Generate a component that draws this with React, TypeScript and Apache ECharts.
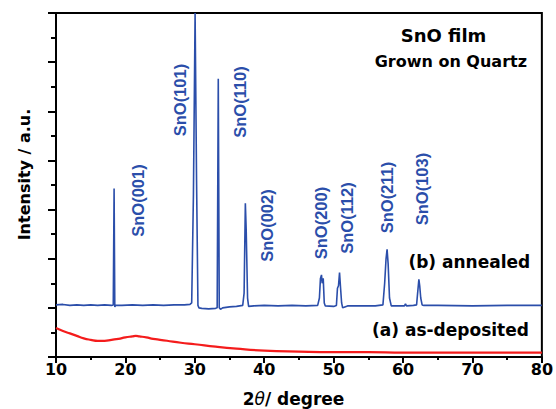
import React, { useEffect, useRef } from "react";
import * as echarts from "echarts";

// 2θ (degree) and intensity (a.u.)
const annealedX: number[] = [
  10, 11, 12, 13, 14, 15, 16, 17, 18.0, 18.25, 18.37, 18.47, 18.6, 19.5, 21, 22.5, 24, 25.5, 27, 28.5,
  29.3, 29.55, 29.8, 30.04, 30.25, 30.45, 30.6, 31, 32, 33.0, 33.22, 33.38, 33.52, 33.7, 34, 35, 36,
  36.9, 37.1, 37.28, 37.4, 37.6, 37.75, 38.5, 40, 42, 44, 46, 47.7, 47.95, 48.1, 48.25, 48.35, 48.5,
  48.65, 48.8, 50, 50.4, 50.55, 50.7, 50.85, 51.0, 51.15, 51.3, 52, 54, 56, 57.1, 57.35, 57.55, 57.7,
  57.85, 58.05, 58.3, 59, 60.2, 60.35, 60.5, 61.5, 61.95, 62.1, 62.28, 62.4, 62.55, 62.75, 63, 65, 70,
  75, 80,
];
const annealedY: number[] = [
  1.06, 1.07, 1.05, 1.06, 1.05, 1.06, 1.05, 1.06, 1.05, 1.06, 3.43, 1.02, 1.05, 1.05, 1.06, 1.05, 1.06, 1.05, 1.06, 1.06,
  1.07, 1.1, 3.3, 7.0, 3.6, 1.05, 1.0, 0.99, 0.98, 0.99, 1.0, 5.66, 1.0, 0.97, 1.0, 1.02, 1.03,
  1.05, 1.3, 3.13, 2.6, 1.2, 1.03, 1.04, 1.05, 1.04, 1.05, 1.04, 1.05, 1.2, 1.6, 1.67, 1.5, 1.6,
  1.1, 1.04, 1.03, 1.05, 1.4, 1.45, 1.72, 1.4, 1.1, 1.0, 1.04, 1.04, 1.04, 1.06, 1.5, 2.0, 2.19,
  1.9, 1.2, 1.04, 1.04, 1.04, 1.08, 1.04, 1.05, 1.06, 1.3, 1.58, 1.45, 1.2, 1.06, 1.05, 1.05, 1.04,
  1.05, 1.05,
];
const depositedX: number[] = [
  10, 11, 12, 13, 14, 15, 16, 17, 18, 19, 20, 21, 21.5, 22, 23, 24, 25, 26, 28, 30, 33, 36, 40, 45, 50,
  55, 60, 65, 70, 75, 80,
];
const depositedY: number[] = [
  0.59, 0.53, 0.48, 0.43, 0.38, 0.35, 0.33, 0.33, 0.35, 0.37, 0.4, 0.42, 0.43, 0.42, 0.4, 0.37, 0.35, 0.33, 0.29,
  0.26, 0.21, 0.17, 0.13, 0.11, 0.1, 0.1, 0.09, 0.09, 0.09, 0.09, 0.09,
];
const xTicks = { min: 10, max: 80, step: 10 };
const peakLabels: string[] = ["SnO(001)", "SnO(101)", "SnO(110)", "SnO(002)", "SnO(200)", "SnO(112)", "SnO(211)", "SnO(103)"];
const peakLabelPos: [number, number][] = [
  [138, 200.5], [180, 100], [240, 102], [267, 225.5], [321, 223], [347, 218], [387, 197.5], [422, 189],
];

const BLUE = "#2b4eaa";
const RED = "#f41c1c";
const BOLD = "DejaVu Sans";

export default function App() {
  const ref = useRef<HTMLDivElement>(null);
  useEffect(() => {
    if (!ref.current) return;
    const chart = echarts.init(ref.current, null, { renderer: "svg" });
    const graphics: any[] = peakLabels.map((t, i) => ({
      type: "text",
      x: peakLabelPos[i][0],
      y: peakLabelPos[i][1],
      rotation: Math.PI / 2,
      style: {
        text: t,
        fill: BLUE,
        font: "bold 16.5px 'Liberation Sans'",
        align: "center",
        verticalAlign: "middle",
      },
    }));
    const blackText = (text: string, x: number, y: number, size: number, rot = 0) => ({
      type: "text",
      x,
      y,
      rotation: rot,
      style: {
        text,
        fill: "#000",
        font: `bold ${size}px '${BOLD}'`,
        align: "center",
        verticalAlign: "middle",
      },
    });
    graphics.push(
      blackText("SnO film", 443.5, 35, 18),
      blackText("Grown on Quartz", 450.8, 61, 16),
      blackText("(b) annealed", 469.3, 261.7, 17),
      blackText("(a) as-deposited", 450.5, 330, 17),
      blackText("Intensity / a.u.", 24, 174.5, 16, Math.PI / 2),
      {
        type: "text",
        x: 293.5,
        y: 398.7,
        style: {
          text: "{a|2}{b|θ}{a|/ degree}",
          align: "center",
          verticalAlign: "middle",
          rich: {
            a: { fontFamily: BOLD, fontWeight: "bold", fontSize: 17, fill: "#000" },
            b: { fontFamily: BOLD, fontStyle: "italic", fontSize: 17, fill: "#000" },
          },
        },
      }
    );
    chart.setOption({
      animation: false,
      backgroundColor: "#fff",
      grid: { left: 56, top: 13, right: 12, bottom: 52, show: true, borderColor: "#000", borderWidth: 2 },
      xAxis: {
        type: "value",
        min: xTicks.min,
        max: xTicks.max,
        interval: xTicks.step,
        axisLine: { lineStyle: { color: "#000", width: 2 } },
        axisTick: { show: true, inside: false, length: 6, lineStyle: { color: "#000", width: 2 } },
        minorTick: { show: true, splitNumber: 2, length: 3, lineStyle: { color: "#000", width: 2 } },
        splitLine: { show: false },
        axisLabel: { color: "#000", fontFamily: BOLD, fontWeight: "bold", fontSize: 16, margin: 4 },
      },
      yAxis: {
        type: "value",
        min: 0,
        max: 7,
        interval: 1,
        axisLine: { show: true, lineStyle: { color: "#000", width: 2 } },
        axisTick: { show: true, inside: false, length: 8, lineStyle: { color: "#000", width: 2 } },
        minorTick: { show: true, splitNumber: 2, length: 5, lineStyle: { color: "#000", width: 2 } },
        splitLine: { show: false },
        axisLabel: { show: false },
      },
      series: [
        {
          type: "line",
          data: annealedX.map((x, i) => [x, annealedY[i]]),
          showSymbol: false,
          symbol: "none",
          lineStyle: { color: BLUE, width: 1.6 },
          clip: true,
        },
        {
          type: "line",
          data: depositedX.map((x, i) => [x, depositedY[i]]),
          showSymbol: false,
          symbol: "none",
          smooth: true,
          lineStyle: { color: RED, width: 2.2 },
          clip: true,
        },
      ],
      graphic: graphics,
    });
    return () => chart.dispose();
  }, []);
  return <div ref={ref} style={{ position: "fixed", left: 0, top: 0, width: 556, height: 409 }} />;
}
